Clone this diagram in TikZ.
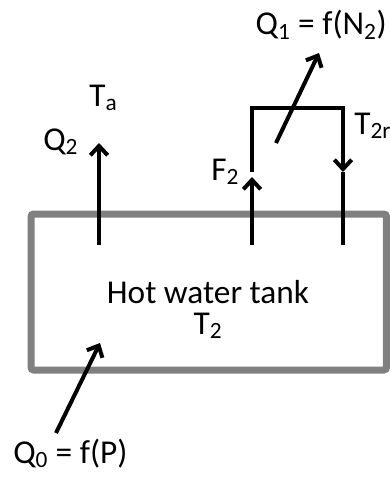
\documentclass[tikz,border=0pt]{standalone}
\usepackage{fontspec}
\setmainfont{Carlito}
\usetikzlibrary{arrows.meta,positioning}

\begin{document}
\begin{tikzpicture}[x=0.75pt, y=-0.75pt,
  tank/.style={draw=black!50, line width=5.25pt, rounded corners=2pt,
               minimum width=266.6pt, minimum height=117pt, inner sep=0pt},
  pipe/.style={line width=3pt},
  flow/.style={pipe, -{Straight Barb[length=7pt, width=13pt]}},
  lbl/.style={font=\fontsize{25}{29}\selectfont, inner sep=0pt}]
\useasboundingbox (0,0) rectangle (390,478);
\node[tank] (tank) at (208.75,292) {};
\node[lbl, anchor=base] (name) at (208,303) {Hot water tank};
\node[lbl, anchor=base] (temp) at (208,334) {T\textsubscript{2}};
% pipe ends on the tank lid
\coordinate (lossfoot) at (99,245);
\coordinate (losstip) at (99,143);
\coordinate (supfoot) at (252,245);
\coordinate (suptip) at (252,177);
\coordinate (loopin) at (252,172);
\coordinate (loopup) at (252,108);
\coordinate (loopright) at (343,108);
\coordinate (looptip) at (343,172);
\coordinate (retfoot) at (343,245);
\coordinate (heattail) at (276,143);
\coordinate (heattip) at (319,53);
\coordinate (inputtail) at (56,433);
\coordinate (inputtip) at (100,343);
\draw[flow] (lossfoot) -- (losstip);
\draw[flow] (supfoot) -- (suptip);
\draw[flow] (loopin) -- (loopup) -- (loopright) -- (looptip);
\draw[pipe] (looptip) -- (retfoot);
\draw[flow] (heattail) -- (heattip);
\draw[flow] (inputtail) -- (inputtip);
% labels
\node[lbl, anchor=base east] (q1) at (387,35) {Q\textsubscript{1} = f(N\textsubscript{2})};
\node[lbl, anchor=base west] (ta) at (89,106) {T\textsubscript{a}};
\node[lbl, anchor=base west] (q2) at (43,150) {Q\textsubscript{2}};
\node[lbl, anchor=base west] (f2) at (211,180) {F\textsubscript{2}};
\node[lbl, anchor=base west] (t2r) at (354,134) {T\textsubscript{2r}};
\node[lbl, anchor=base west] (q0) at (13,463) {Q\textsubscript{0} = f(P)};
\end{tikzpicture}
\end{document}
